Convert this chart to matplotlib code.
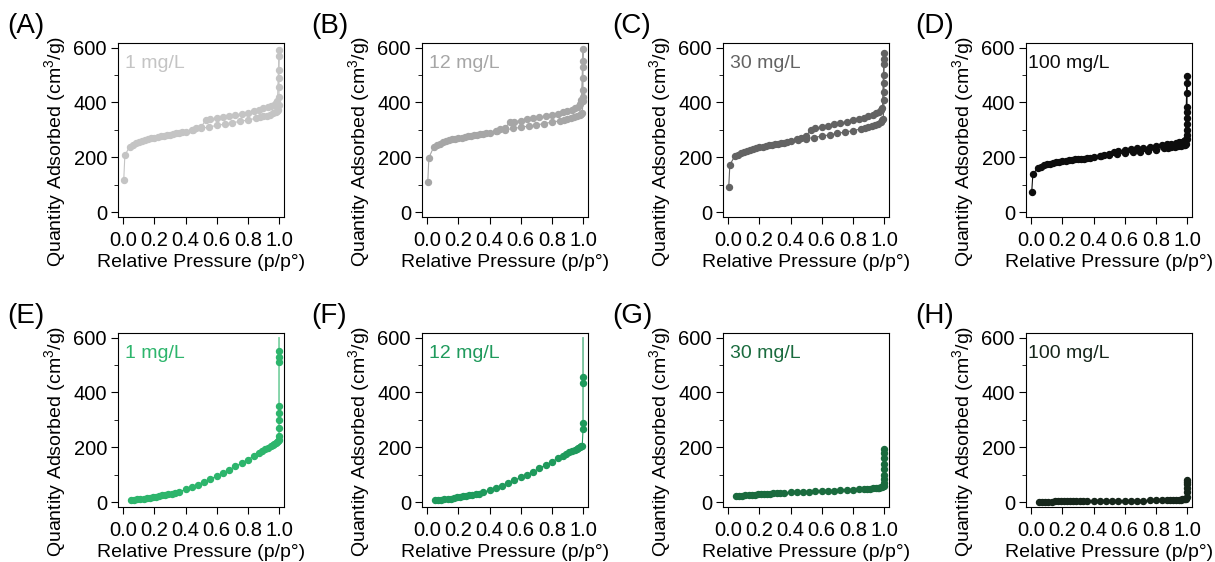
import matplotlib
matplotlib.use('Agg')
import matplotlib.pyplot as plt
from matplotlib.ticker import MultipleLocator

plt.rcParams['font.family'] = ['Liberation Sans', 'DejaVu Sans']
plt.rcParams['mathtext.default'] = 'regular'

## relative pressure points, top row (adsorption then desorption)
p_ads_top = [0.003, 0.01, 0.04, 0.06, 0.08, 0.1, 0.12, 0.14, 0.16, 0.18, 0.2, 0.22, 0.24, 0.26, 0.28,
             0.3, 0.32, 0.34, 0.36, 0.38, 0.4, 0.45, 0.5, 0.55, 0.6, 0.65, 0.7, 0.75, 0.8, 0.85,
             0.88, 0.9, 0.92, 0.94, 0.96, 0.98, 0.99, 0.995]
p_des_top = [0.99, 0.98, 0.97, 0.95, 0.93, 0.9, 0.87, 0.84, 0.8, 0.76, 0.72, 0.68, 0.64, 0.6,
             0.56, 0.53, 0.5, 0.47, 0.44]

a_ads = [118, 207, 238, 245, 251, 256, 260, 264, 267, 270, 272, 275, 277, 279, 281, 283, 285, 287, 289, 291, 293,
         299, 305, 311, 316, 321, 326, 331, 336, 342, 346, 349, 352, 355, 360, 366, 370, 374]
a_top = [390, 420, 455, 490, 520, 570, 590]
a_des = [405, 397, 392, 388, 384, 378, 373, 369, 363, 358, 354, 350, 346, 342, 338, 335, 312, 305, 300]

b_ads = [108, 198, 236, 244, 250, 255, 259, 263, 266, 268, 270, 272, 274, 276, 278, 280, 282, 284, 286, 288, 290,
         295, 300, 305, 309, 314, 318, 323, 328, 333, 337, 340, 343, 346, 350, 355, 358, 360]
b_top = [405, 420, 447, 490, 530, 552, 595]
b_des = [410, 395, 385, 378, 373, 368, 364, 359, 354, 350, 346, 342, 338, 334, 330, 327, 308, 302, 297]

c_ads = [93, 172, 203, 210, 215, 220, 224, 228, 231, 234, 237, 239, 241, 243, 245, 247, 249, 251, 253, 255, 258,
         263, 268, 272, 277, 282, 287, 292, 297, 303, 307, 310, 314, 318, 323, 330, 336, 340]
c_top = [410, 440, 470, 500, 540, 560, 580]
c_des = [380, 372, 366, 360, 355, 350, 345, 340, 335, 330, 325, 320, 315, 310, 305, 300, 278, 270, 265]

d_ads = [75, 138, 160, 166, 170, 174, 177, 180, 182, 184, 186, 188, 189, 191, 192, 193, 194, 195, 197, 198, 200,
         204, 208, 211, 215, 218, 221, 224, 228, 232, 234, 236, 238, 240, 242, 244, 246, 247]
d_top = [265, 282, 300, 320, 345, 365, 385, 435, 470, 497]
d_des = [262, 258, 256, 254, 252, 250, 247, 244, 241, 238, 235, 232, 229, 226, 223, 220, 212, 207, 204]

## bottom row
p_low = [0.05, 0.07, 0.09, 0.11, 0.13, 0.15, 0.17, 0.19, 0.21, 0.23, 0.25, 0.27, 0.29, 0.31, 0.33,
         0.36, 0.4, 0.44, 0.48, 0.52, 0.56, 0.6, 0.64, 0.68, 0.72, 0.76, 0.8, 0.84,
         0.87, 0.89, 0.91, 0.93, 0.95, 0.96, 0.97, 0.98, 0.99, 0.995]

e_ads = [7, 8, 10, 11, 13, 14, 16, 18, 20, 22, 24, 26, 28, 30, 33, 38, 46, 55, 64, 74, 84, 95, 106, 118, 130,
         142, 155, 168, 178, 185, 192, 199, 205, 209, 212, 215, 219, 222]
e_top = [226, 240, 270, 300, 325, 350, 510, 530, 553, 600]
f_ads = [7, 8, 9, 10, 12, 13, 15, 17, 19, 21, 23, 25, 27, 29, 31, 36, 43, 51, 60, 69, 79, 90, 100, 111, 123,
         135, 147, 160, 169, 175, 181, 186, 191, 194, 197, 200, 203, 205]
f_top = [265, 290, 435, 458, 600]
g_ads = [21, 22, 23, 24, 25, 26, 27, 28, 29, 30, 31, 31, 32, 33, 33, 34, 35, 36, 37, 38, 39, 40, 41, 42, 43,
         44, 45, 46, 47, 48, 49, 50, 51, 52, 53, 54, 55, 57]
g_top = [60, 70, 85, 100, 120, 140, 160, 180, 195]
h_ads = [2, 2, 2, 2, 2, 3, 3, 3, 3, 3, 3, 3, 3, 3, 3, 4, 4, 4, 4, 4, 5, 5, 5, 5, 5, 6, 6, 7,
         7, 8, 8, 8, 9, 9, 10, 10, 11, 12]
h_top = [20, 35, 50, 65, 75, 80]

labels = ['(A)', '(B)', '(C)', '(D)', '(E)', '(F)', '(G)', '(H)']
conc = ['1 mg/L', '12 mg/L', '30 mg/L', '100 mg/L', '1 mg/L', '12 mg/L', '30 mg/L', '100 mg/L']
colors = ['#c4c4c4', '#a6a6a6', '#636363', '#0d0d0d', '#2db56c', '#1f9a5c', '#1a6b3e', '#16261b']

panels = []
for ads, top, des in [(a_ads, a_top, a_des), (b_ads, b_top, b_des), (c_ads, c_top, c_des), (d_ads, d_top, d_des)]:
    panels.append((p_ads_top + [1.0] * len(top) + p_des_top, ads + top + des, True))
for ads, top, last_marked in [(e_ads, e_top, False), (f_ads, f_top, False), (g_ads, g_top, True), (h_ads, h_top, True)]:
    panels.append((p_low + [1.0] * len(top), ads + top, last_marked))

fig = plt.figure(figsize=(12.15, 5.62), dpi=100)
lefts = [118, 422, 723, 1026]
for i in range(8):
    row, col = i // 4, i % 4
    bottom_px = 217 if row == 0 else 507
    ax = fig.add_axes([lefts[col] / 1215, 1 - bottom_px / 562, 166 / 1215, 174 / 562])
    x, y, last_marked = panels[i]
    n = len(x) if last_marked else len(x) - 1
    ax.plot(x, y, '-o', color=colors[i], lw=0.8, ms=4.3, markevery=slice(0, n))
    ax.set_xlim(-0.034, 1.032)
    ax.set_ylim(-18, 617)
    ax.set_xticks([0, 0.2, 0.4, 0.6, 0.8, 1.0])
    ax.set_xticklabels(['0.0', '0.2', '0.4', '0.6', '0.8', '1.0'])
    ax.yaxis.set_major_locator(MultipleLocator(200))
    ax.yaxis.set_minor_locator(MultipleLocator(100))
    ax.tick_params(which='major', length=5, labelsize=14.5, pad=3)
    ax.tick_params(axis='x', which='major', pad=5)
    ax.tick_params(which='minor', length=3)
    ax.set_xlabel('Relative Pressure (p/p\u00b0)', fontsize=14, labelpad=3)
    ax.set_ylabel('Quantity Adsorbed (cm$^{3}$/g)', fontsize=14)
    ax.yaxis.set_label_coords(-0.30, 0.38)
    tx = 0.01 if conc[i] == '100 mg/L' else 0.04
    ax.text(tx, 0.88, conc[i], color=colors[i], fontsize=14, transform=ax.transAxes, va='center')
    ax.text(-0.67, 1.17, labels[i], fontsize=20, transform=ax.transAxes, va='top')

plt.savefig('out.png', dpi=100)
